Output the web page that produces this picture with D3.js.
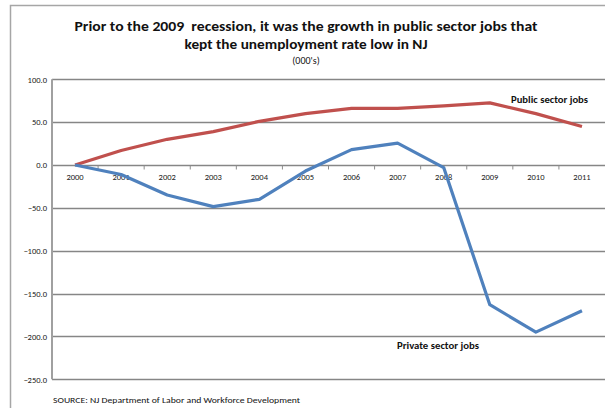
<!DOCTYPE html>
<html>
<head>
<meta charset="utf-8">
<script src="https://cdn.jsdelivr.net/npm/d3@7"></script>
<style>
  html, body { margin: 0; padding: 0; background: #fff; }
  svg { display: block; font-family: Carlito, Calibri, "Liberation Sans", Arial, sans-serif; }
  text { white-space: pre; }
</style>
</head>
<body>
<svg id="chart" width="605" height="408"></svg>
<script>
// Job change since 2000, in thousands
const years = ["2000","2001","2002","2003","2004","2005","2006","2007","2008","2009","2010","2011"];
const publicJobs  = [0, 17, 30, 39, 51, 60, 66, 66, 69, 72.5, 60, 45];
const privateJobs = [0, -11, -35, -48.5, -40, -7, 18, 25.5, -3, -163, -195, -170];
const yTicks = [100, 50, 0, -50, -100, -150, -200, -250];

const svg = d3.select("#chart");
const W = 605, H = 408;
const m = { left: 52, right: 0, top: 79.3, bottom: 28.7 };

// chart frame
svg.append("path")
  .attr("d", `M10.5,${H} V5.5 H${W}`)
  .attr("fill", "none").attr("stroke", "#a6a6a6").attr("stroke-width", 1.5);

const x = d3.scaleBand().domain(years).range([m.left, W - m.right]);
const y = d3.scaleLinear().domain([-250, 100]).range([H - m.bottom, m.top]);

// horizontal gridlines + value axis
const yAxis = svg.append("g")
  .attr("transform", `translate(${m.left},0)`)
  .call(d3.axisLeft(y).tickValues(yTicks).tickFormat(d3.format(".1f")).tickSize(0).tickPadding(5));
yAxis.select(".domain").remove();
yAxis.selectAll("text").attr("font-size", 8.5).attr("fill", "#222")
  .attr("font-family", "Carlito, Calibri, 'Liberation Sans', Arial, sans-serif");

svg.append("g").selectAll("line").data(yTicks).join("line")
  .attr("x1", m.left).attr("x2", W)
  .attr("y1", d => Math.round(y(d)) + 0.5).attr("y2", d => Math.round(y(d)) + 0.5)
  .attr("stroke", "#868686").attr("stroke-width", 1.3);

svg.append("line")
  .attr("x1", m.left).attr("x2", m.left)
  .attr("y1", y(100)).attr("y2", y(-250))
  .attr("stroke", "#a0a0a0").attr("stroke-width", 2);

// category axis crossing at zero
const zeroY = Math.round(y(0)) + 0.5;
const bounds = years.slice(1).map(d => x(d));
svg.append("g").selectAll("line").data(bounds).join("line")
  .attr("x1", d => d).attr("x2", d => d)
  .attr("y1", zeroY).attr("y2", zeroY + 4)
  .attr("stroke", "#8c8c8c").attr("stroke-width", 1);
svg.append("g").selectAll("text").data(years).join("text")
  .attr("x", d => x(d) + x.bandwidth() / 2)
  .attr("y", zeroY + 14)
  .attr("text-anchor", "middle")
  .attr("font-size", 8.5).attr("fill", "#222")
  .text(d => d);

// series lines
const line = d3.line()
  .x((d, i) => x(years[i]) + x.bandwidth() / 2)
  .y(d => y(d));

svg.append("path").datum(publicJobs)
  .attr("d", line).attr("fill", "none")
  .attr("stroke", "#c0504d").attr("stroke-width", 3.2).attr("stroke-linejoin", "round");
svg.append("path").datum(privateJobs)
  .attr("d", line).attr("fill", "none")
  .attr("stroke", "#4f81bd").attr("stroke-width", 3.2).attr("stroke-linejoin", "round");

// series labels
svg.append("text").attr("x", 511).attr("y", 103)
  .attr("font-size", 9.5).attr("font-weight", "bold").attr("fill", "#111")
  .attr("textLength", 77).attr("lengthAdjust", "spacingAndGlyphs")
  .text("Public sector jobs");
svg.append("text").attr("x", 397).attr("y", 349)
  .attr("font-size", 9.5).attr("font-weight", "bold").attr("fill", "#111")
  .attr("textLength", 82).attr("lengthAdjust", "spacingAndGlyphs")
  .text("Private sector jobs");

// title
const cx = 306;
svg.append("text").attr("x", cx).attr("y", 31).attr("text-anchor", "middle")
  .attr("font-size", 14).attr("font-weight", "bold").attr("fill", "#111")
  .attr("textLength", 463).attr("lengthAdjust", "spacingAndGlyphs")
  .text("Prior to the 2009  recession, it was the growth in public sector jobs that");
svg.append("text").attr("x", cx).attr("y", 49).attr("text-anchor", "middle")
  .attr("font-size", 14).attr("font-weight", "bold").attr("fill", "#111")
  .attr("textLength", 243).attr("lengthAdjust", "spacingAndGlyphs")
  .text("kept the unemployment rate low in NJ");
svg.append("text").attr("x", cx).attr("y", 64).attr("text-anchor", "middle")
  .attr("font-size", 10).attr("fill", "#111")
  .text("(000's)");

// source note
svg.append("text").attr("x", 53).attr("y", 403)
  .attr("font-size", 8.5).attr("fill", "#111")
  .attr("textLength", 247).attr("lengthAdjust", "spacingAndGlyphs")
  .text("SOURCE: NJ Department of Labor and Workforce Development");
</script>
</body>
</html>
